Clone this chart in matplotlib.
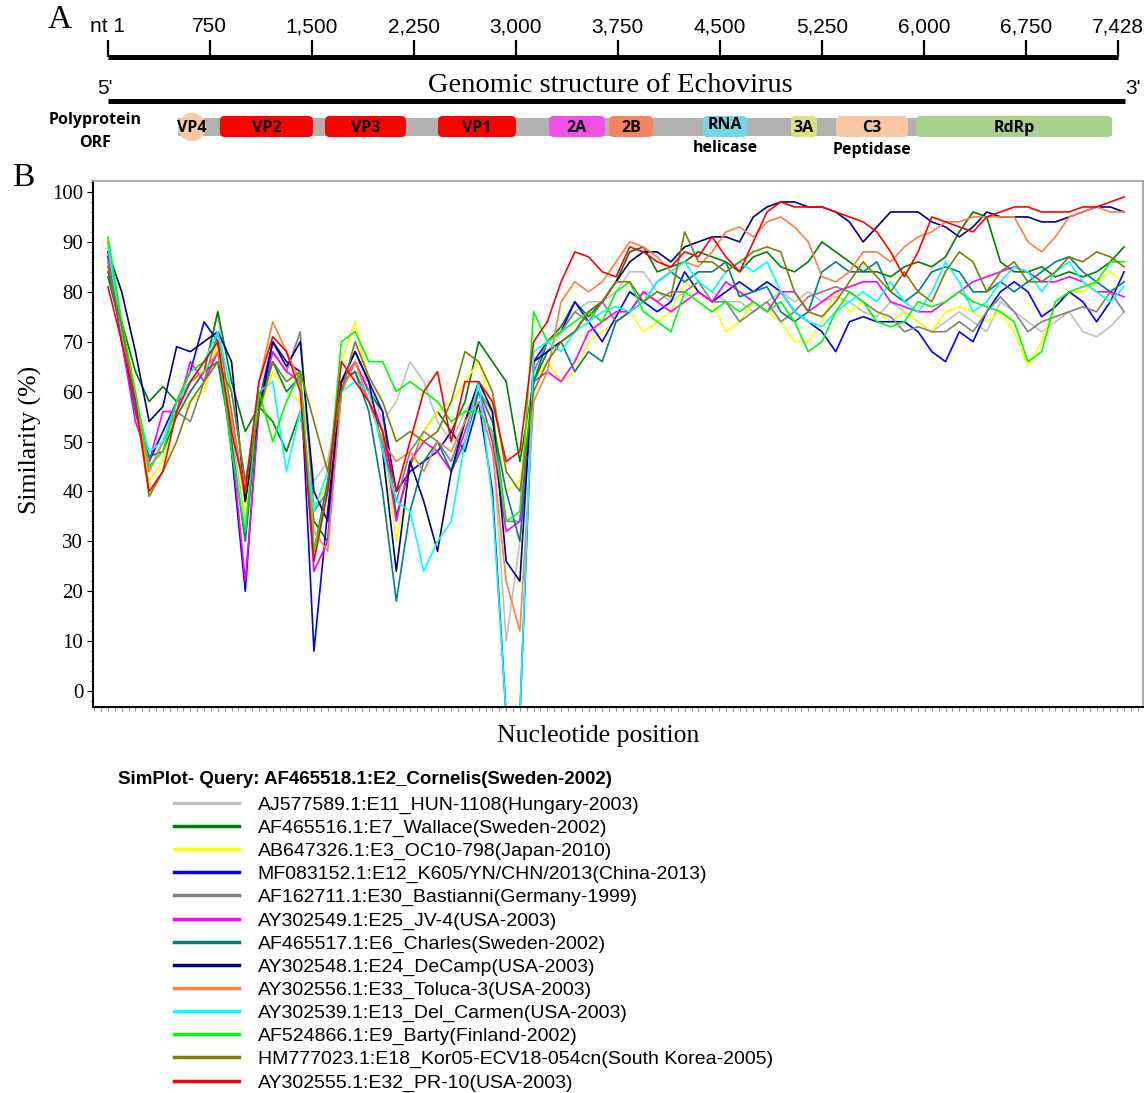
import numpy as np
import matplotlib.pyplot as plt
from matplotlib.patches import FancyBboxPatch, Ellipse, Rectangle
from matplotlib.lines import Line2D
from matplotlib.ticker import MultipleLocator

plt.rcParams['font.family'] = ['Liberation Serif', 'DejaVu Serif']

W, H = 1144, 1093

# ---------------- panel A data (genome map, nt positions) ----------------
ruler_ticks = [1, 750, 1500, 2250, 3000, 3750, 4500, 5250, 6000, 6750, 7428]
ruler_labels = ['nt 1', '750', '1,500', '2,250', '3,000', '3,750', '4,500',
                '5,250', '6,000', '6,750', '7,428']
orf_start, orf_end = 515, 7383
vp4_center = 618
gene_names = ['VP2', 'VP3', 'VP1', '2A', '2B', 'RNA', '3A', 'C3', 'RdRp']
gene_start = [824, 1597, 2427, 3244, 3685, 4376, 5023, 5354, 5943]
gene_end = [1508, 2192, 3001, 3655, 4008, 4700, 5214, 5884, 7384]
gene_colors = ['#ff0000', '#ff0000', '#ff0000', '#f250e6', '#f5845f',
               '#73d7e6', '#dde27a', '#f8c7a6', '#a9d18e']

# ---------------- panel B data (SimPlot similarity, %) ----------------
pos = np.arange(0, 7401, 100)

e11 = [86, 72, 56, 44, 50, 58, 60, 64, 76, 52,
       34, 58, 66, 60, 62, 42, 46, 62, 64, 62,
       54, 58, 66, 62, 54, 50, 56, 60, 50, 10,
       30, 62, 68, 72, 76, 78, 78, 80, 84, 84,
       80, 78, 80, 82, 80, 78, 78, 76, 78, 80,
       78, 80, 78, 79, 78, 76, 75, 78, 76, 74,
       72, 74, 76, 74, 72, 78, 76, 74, 72, 74,
       76, 72, 71, 73, 76]
e7 = [84, 74, 64, 58, 61, 58, 62, 64, 76, 62,
      52, 57, 54, 48, 56, 34, 30, 60, 66, 60,
      56, 35, 45, 52, 56, 52, 58, 70, 66, 62,
      46, 62, 70, 73, 78, 75, 78, 82, 88, 89,
      84, 85, 86, 88, 87, 86, 84, 87, 88, 85,
      84, 86, 90, 88, 86, 84, 84, 83, 85, 86,
      85, 87, 92, 96, 95, 86, 84, 84, 85, 83,
      84, 83, 84, 86, 89]
e3 = [90, 72, 58, 42, 46, 56, 58, 60, 70, 56,
      36, 56, 64, 60, 58, 36, 42, 66, 74, 62,
      50, 30, 44, 52, 56, 58, 62, 66, 56, 40,
      42, 62, 66, 62, 64, 70, 72, 74, 76, 72,
      74, 76, 82, 80, 78, 72, 74, 78, 76, 74,
      70, 70, 74, 80, 76, 78, 76, 74, 76, 74,
      72, 76, 77, 76, 74, 76, 72, 65, 70, 78,
      80, 80, 82, 84, 82]
e12 = [87, 70, 56, 46, 52, 58, 64, 74, 70, 48,
       20, 58, 70, 66, 64, 8, 36, 62, 68, 62,
       56, 40, 44, 46, 48, 52, 48, 58, 40, -5,
       -5, 66, 70, 72, 78, 74, 70, 75, 80, 78,
       76, 78, 84, 80, 78, 80, 82, 80, 82, 80,
       76, 74, 72, 68, 74, 75, 74, 74, 74, 72,
       68, 66, 72, 70, 76, 80, 82, 80, 75, 77,
       80, 78, 74, 78, 84]
e30 = [86, 72, 58, 44, 50, 56, 54, 62, 72, 56,
       38, 58, 68, 64, 72, 36, 40, 62, 64, 58,
       50, 38, 48, 52, 50, 46, 54, 60, 56, 34,
       34, 64, 70, 72, 76, 74, 78, 74, 76, 80,
       78, 80, 80, 82, 78, 78, 74, 76, 78, 74,
       76, 79, 80, 81, 80, 78, 76, 75, 72, 73,
       72, 72, 74, 72, 76, 79, 76, 72, 74, 75,
       76, 77, 76, 80, 76]
e25 = [88, 70, 54, 46, 56, 56, 66, 62, 68, 50,
       22, 56, 68, 64, 62, 24, 30, 62, 66, 60,
       52, 34, 46, 50, 48, 44, 52, 60, 50, 32,
       34, 62, 64, 62, 66, 72, 74, 76, 76, 80,
       78, 76, 78, 80, 78, 82, 80, 78, 76, 80,
       80, 76, 78, 80, 81, 82, 82, 78, 77, 76,
       76, 78, 80, 82, 83, 84, 85, 84, 82, 82,
       83, 82, 80, 80, 79]
e6 = [83, 72, 56, 47, 48, 55, 60, 64, 66, 50,
      30, 58, 66, 60, 63, 28, 42, 62, 64, 56,
      40, 18, 36, 46, 50, 44, 50, 60, 54, 40,
      30, 62, 68, 70, 64, 68, 66, 74, 76, 78,
      82, 84, 82, 84, 84, 86, 79, 80, 81, 76,
      74, 76, 84, 86, 84, 84, 86, 80, 78, 80,
      84, 85, 84, 80, 80, 82, 80, 82, 84, 86,
      87, 84, 82, 80, 82]
e24 = [88, 80, 68, 54, 57, 69, 68, 70, 72, 66,
       38, 56, 70, 65, 70, 40, 34, 62, 68, 62,
       48, 24, 46, 38, 28, 44, 54, 62, 56, 26,
       22, 66, 68, 70, 72, 76, 78, 82, 86, 88,
       88, 86, 89, 90, 91, 91, 90, 95, 97, 98,
       98, 97, 97, 96, 94, 90, 93, 96, 96, 96,
       94, 93, 91, 93, 96, 95, 95, 95, 94, 94,
       95, 96, 97, 97, 96]
e33 = [90, 72, 58, 44, 50, 56, 62, 64, 68, 54,
       40, 62, 74, 68, 62, 32, 28, 60, 66, 58,
       50, 46, 48, 44, 50, 48, 54, 58, 48, 22,
       12, 58, 64, 78, 82, 80, 82, 86, 90, 89,
       87, 84, 86, 85, 88, 92, 93, 91, 94, 95,
       93, 90, 83, 82, 84, 88, 88, 86, 89, 91,
       92, 94, 94, 95, 95, 95, 95, 90, 88, 91,
       95, 96, 97, 96, 96]
e13 = [89, 72, 58, 48, 50, 58, 62, 66, 72, 60,
       42, 60, 62, 44, 56, 36, 44, 60, 62, 60,
       48, 38, 36, 24, 30, 34, 50, 62, 38, -5,
       -5, 68, 70, 68, 72, 74, 76, 77, 76, 78,
       82, 84, 86, 82, 80, 84, 86, 84, 86, 80,
       76, 74, 73, 76, 78, 80, 78, 82, 78, 76,
       80, 86, 82, 76, 78, 82, 85, 84, 80, 84,
       86, 82, 80, 78, 81]
e9 = [91, 74, 60, 45, 48, 58, 64, 66, 70, 48,
      32, 60, 50, 58, 64, 28, 40, 70, 72, 66,
      66, 60, 62, 60, 58, 54, 56, 56, 52, 34,
      36, 76, 70, 72, 74, 76, 74, 80, 82, 76,
      74, 72, 80, 78, 76, 78, 76, 78, 76, 78,
      74, 68, 70, 76, 80, 78, 74, 73, 74, 78,
      77, 78, 80, 78, 77, 76, 74, 66, 68, 78,
      80, 81, 82, 86, 86]
e18 = [85, 73, 58, 39, 44, 50, 58, 62, 66, 60,
       42, 56, 66, 62, 64, 54, 44, 60, 70, 63,
       58, 50, 52, 50, 52, 58, 68, 66, 60, 44,
       40, 60, 66, 70, 72, 76, 78, 82, 82, 78,
       80, 79, 92, 86, 86, 84, 86, 88, 89, 88,
       80, 76, 75, 78, 82, 86, 83, 80, 84, 80,
       78, 84, 88, 86, 80, 84, 86, 82, 82, 84,
       87, 86, 88, 87, 85]
e32 = [81, 70, 58, 40, 44, 56, 62, 66, 70, 52,
       40, 62, 71, 68, 60, 26, 40, 66, 62, 58,
       52, 40, 50, 60, 64, 50, 62, 62, 58, 46,
       48, 70, 74, 82, 88, 87, 84, 83, 89, 88,
       86, 85, 88, 87, 91, 87, 84, 90, 96, 98,
       97, 97, 97, 96, 95, 94, 92, 88, 83, 88,
       95, 94, 93, 92, 95, 96, 97, 97, 96, 96,
       96, 97, 97, 98, 99]

series = [e11, e7, e3, e12, e30, e25, e6, e24, e33, e13, e9, e18, e32]
names = ['AJ577589.1:E11_HUN-1108(Hungary-2003)',
         'AF465516.1:E7_Wallace(Sweden-2002)',
         'AB647326.1:E3_OC10-798(Japan-2010)',
         'MF083152.1:E12_K605/YN/CHN/2013(China-2013)',
         'AF162711.1:E30_Bastianni(Germany-1999)',
         'AY302549.1:E25_JV-4(USA-2003)',
         'AF465517.1:E6_Charles(Sweden-2002)',
         'AY302548.1:E24_DeCamp(USA-2003)',
         'AY302556.1:E33_Toluca-3(USA-2003)',
         'AY302539.1:E13_Del_Carmen(USA-2003)',
         'AF524866.1:E9_Barty(Finland-2002)',
         'HM777023.1:E18_Kor05-ECV18-054cn(South Korea-2005)',
         'AY302555.1:E32_PR-10(USA-2003)']
colors = ['#c0c0c0', '#008000', '#ffff00', '#0000ff', '#808080', '#ff00ff',
          '#008080', '#000080', '#ff7f40', '#00ffff', '#00ff00', '#808000',
          '#ff0000']

fig = plt.figure(figsize=(W / 100, H / 100), dpi=100)

# ---------------- panel A: genome structure ----------------
gax = fig.add_axes([0, 1 - 170 / H, 1, 170 / H])
gax.set_xlim(-793, 7619)
gax.set_ylim(170, 0)
gax.axis('off')
nt_per_px = 7427 / 1010

gax.hlines(57, 1, 7428, color='black', lw=3.6)
gax.vlines(ruler_ticks, 40, 57, color='black', lw=1.6)
for t, lab in zip(ruler_ticks, ruler_labels):
    gax.text(t, 27, lab, ha='center', va='center', fontsize=15,
             family='Liberation Sans')
gax.text(-352, 20, 'A', ha='center', va='center', fontsize=24)

gax.hlines(101, 1, 7480, color='black', lw=3.6)
gax.text(-21, 88, "5'", ha='center', va='center', fontsize=15, family='Liberation Sans')
gax.text(7538, 88, "3'", ha='center', va='center', fontsize=15, family='Liberation Sans')
gax.text(3692, 85, 'Genomic structure of Echovirus', ha='center', va='center',
         fontsize=20.5)

lab_kw = dict(ha='center', va='center', fontsize=11.5, family='Open Sans', weight='bold')
gax.text(-95, 120, 'Polyprotein', **lab_kw)
gax.text(-95, 143, 'ORF', **lab_kw)

gax.add_patch(Rectangle((orf_start, 118), orf_end - orf_start, 18,
                        color='#b3b0b0', lw=0))
for nm, s, e, c in zip(gene_names, gene_start, gene_end, gene_colors):
    gax.add_patch(FancyBboxPatch((s, 116), e - s, 21,
                                 boxstyle='round,pad=0,rounding_size=35',
                                 mutation_aspect=1 / nt_per_px,
                                 fc=c, ec='none'))
    ty = 125 if nm == 'RNA' else 128
    gax.text((s + e) / 2, ty, nm, **lab_kw)
gax.add_patch(Ellipse((vp4_center, 127), 28 * nt_per_px, 28, fc='#f8c9a4', ec='none'))
gax.text(vp4_center, 128, 'VP4', **lab_kw)
gax.text((gene_start[5] + gene_end[5]) / 2, 148, 'helicase', **lab_kw)
gax.text((gene_start[7] + gene_end[7]) / 2, 150, 'Peptidase', **lab_kw)

# ---------------- panel B: similarity plot ----------------
ax = fig.add_axes([93 / W, 1 - 707 / H, 1050 / W, 526 / H])
for vals, c in zip(series, colors):
    ax.plot(pos, vals, color=c, lw=1.2)

ax.set_xlim(-109, 7538)
ax.set_ylim(-3.2, 102.2)
ax.set_yticks(range(0, 101, 10))
ax.yaxis.set_minor_locator(MultipleLocator(2))
ax.set_xticks([])
ax.xaxis.set_minor_locator(MultipleLocator(50))
ax.tick_params(axis='y', which='major', length=4, labelsize=15, pad=3)
ax.tick_params(axis='y', which='minor', length=2, color='#777777')
ax.tick_params(axis='x', which='minor', length=3, color='#777777')
for side in ['top', 'right']:
    ax.spines[side].set_color('#a0a0a0')
    ax.spines[side].set_linewidth(1.2)
for side in ['left', 'bottom']:
    ax.spines[side].set_color('black')
    ax.spines[side].set_linewidth(1.5)

fig.text(12 / W, 1 - 178 / H, 'B', ha='left', va='center', fontsize=24)
fig.text(30 / W, 1 - 440 / H, 'Similarity (%)', rotation=90, ha='center',
         va='center', fontsize=18.5)
fig.text(598 / W, 1 - 736 / H, 'Nucleotide position', ha='center',
         va='center', fontsize=18.5)

# ---------------- legend ----------------
fig.text(118 / W, 1 - 779 / H, 'SimPlot- Query: AF465518.1:E2_Cornelis(Sweden-2002)',
         ha='left', va='center', fontsize=13.5, weight='bold',
         family='Liberation Sans')
handles = [Line2D([], [], color=c, lw=2.5) for c in colors]
fig.legend(handles, names, loc='upper left', bbox_to_anchor=(174 / W, 1 - 796 / H),
           frameon=False, prop={'family': 'Liberation Sans', 'size': 14},
           handlelength=3.35, handletextpad=0.95, labelspacing=0.275,
           borderaxespad=0, borderpad=0)

fig.savefig('out.png', dpi=100)
